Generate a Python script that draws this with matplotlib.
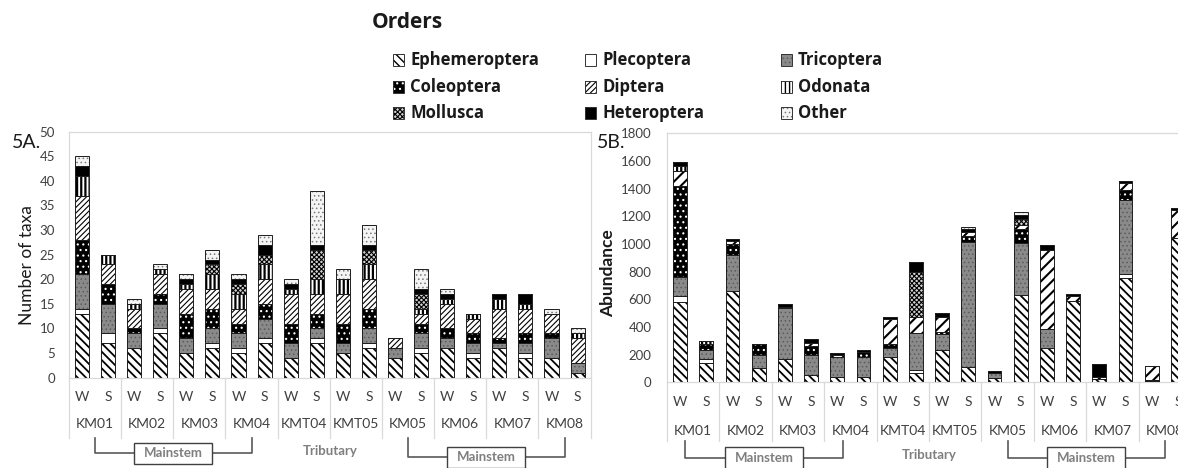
import matplotlib

matplotlib.use("Agg")
import matplotlib.pyplot as plt  # noqa: E402
import numpy as np  # noqa: E402
from matplotlib.patches import Rectangle  # noqa: E402
from matplotlib.transforms import blended_transform_factory  # noqa: E402

W_PX, H_PX = 1178, 468

sites = ["KM01", "KM02", "KM03", "KM04", "KMT04", "KMT05", "KM05", "KM06", "KM07", "KM08"]
seasons = ["W", "S"]
orders = ["Ephemeroptera", "Plecoptera", "Tricoptera", "Coleoptera", "Diptera",
          "Odonata", "Mollusca", "Heteroptera", "Other"]

# number of taxa per order, bars ordered KM01 W, KM01 S, KM02 W, ...
taxa_ephemeroptera = [13, 7, 6, 9, 5, 6, 5, 7, 4, 7, 5, 6, 4, 5, 6, 4, 6, 4, 4, 1]
taxa_plecoptera = [1, 2, 0, 1, 0, 1, 1, 1, 0, 1, 0, 1, 0, 1, 0, 1, 0, 1, 0, 0]
taxa_tricoptera = [7, 6, 3, 5, 3, 3, 3, 4, 3, 2, 2, 3, 2, 3, 2, 2, 1, 2, 4, 2]
taxa_coleoptera = [7, 4, 1, 2, 5, 4, 2, 3, 4, 3, 4, 4, 0, 2, 2, 2, 1, 2, 1, 0]
taxa_diptera = [9, 4, 4, 4, 5, 4, 3, 5, 6, 4, 6, 6, 2, 2, 5, 3, 6, 5, 4, 5]
taxa_odonata = [4, 2, 1, 1, 1, 3, 3, 3, 1, 3, 3, 3, 0, 1, 1, 1, 2, 1, 0, 1]
taxa_mollusca = [0, 0, 0, 0, 0, 2, 2, 2, 0, 6, 0, 3, 0, 3, 0, 0, 0, 0, 0, 0]
taxa_heteroptera = [2, 0, 0, 0, 1, 1, 1, 2, 1, 1, 0, 1, 0, 1, 1, 0, 1, 2, 0, 0]
taxa_other = [2, 0, 1, 1, 1, 2, 1, 2, 1, 11, 2, 4, 0, 4, 1, 0, 0, 0, 1, 1]

# abundance per order, same bar order
abund_ephemeroptera = [580, 140, 660, 100, 170, 50, 40, 40, 180, 70, 230, 110, 30, 630, 250, 590, 25, 757, 8, 1040]
abund_plecoptera = [45, 30, 0, 0, 0, 0, 0, 0, 0, 20, 0, 0, 0, 0, 0, 0, 0, 27, 0, 0]
abund_tricoptera = [135, 60, 260, 95, 365, 150, 145, 145, 65, 265, 120, 905, 40, 375, 133, 0, 0, 535, 0, 0]
abund_coleoptera = [660, 50, 80, 85, 0, 60, 0, 35, 30, 0, 15, 40, 0, 105, 0, 0, 0, 72, 10, 0]
abund_diptera = [110, 0, 20, 0, 10, 25, 10, 0, 180, 120, 110, 35, 0, 30, 573, 34, 15, 49, 100, 205]
abund_odonata = [35, 15, 0, 0, 0, 0, 0, 0, 0, 0, 0, 0, 0, 0, 0, 0, 0, 0, 0, 0]
abund_mollusca = [0, 0, 0, 0, 0, 0, 0, 0, 0, 325, 0, 0, 0, 40, 0, 0, 0, 0, 0, 0]
abund_heteroptera = [25, 0, 15, 0, 20, 25, 15, 15, 20, 67, 25, 15, 10, 30, 34, 14, 90, 15, 0, 13]
abund_other = [0, 0, 0, 0, 0, 0, 0, 0, 0, 0, 0, 20, 0, 20, 0, 0, 0, 0, 0, 0]

taxa = dict(zip(orders, [taxa_ephemeroptera, taxa_plecoptera, taxa_tricoptera, taxa_coleoptera,
                         taxa_diptera, taxa_odonata, taxa_mollusca, taxa_heteroptera, taxa_other]))
abund = dict(zip(orders, [abund_ephemeroptera, abund_plecoptera, abund_tricoptera, abund_coleoptera,
                          abund_diptera, abund_odonata, abund_mollusca, abund_heteroptera, abund_other]))

# fill, hatch, hatch colour, hatch line width
STYLE = {
    "Ephemeroptera": ("white", "\\\\\\\\", "black", 1.3),
    "Plecoptera": ("white", "", "black", 0.5),
    "Tricoptera": ("#8a8a8a", "....", "#5c5c5c", 0.6),
    "Coleoptera": ("black", "...", "white", 0.8),
    "Diptera": ("white", "//////", "black", 0.8),
    "Odonata": ("white", "||||", "black", 1.6),
    "Mollusca": ("#d0d0d0", "xxxxxxx", "black", 0.8),
    "Heteroptera": ("black", "", "black", 0.5),
    "Other": ("#f4f4f4", "....", "#7a7a7a", 0.6),
}
STYLE_B = dict(STYLE, Diptera=("white", "///", "black", 1.5))

plt.rcParams["font.family"] = ["Lato", "DejaVu Sans"]
LEGEND_FONT = ["Open Sans", "DejaVu Sans"]

fig = plt.figure(figsize=(W_PX / 100, H_PX / 100), dpi=100)
fig.patch.set_facecolor("white")


def px_axes(left, top, right, bottom):
    return fig.add_axes([left / W_PX, 1 - bottom / H_PX, (right - left) / W_PX, (bottom - top) / H_PX])


def fy(ypx):
    return 1 - ypx / H_PX


def hatched(patch, lw):
    if hasattr(patch, "set_hatch_linewidth"):
        patch.set_hatch_linewidth(lw)


def draw_stack(ax, data, styles, width):
    x = np.arange(len(sites) * len(seasons))
    bottom = np.zeros(len(x))
    for name in orders:
        h = np.array(data[name], dtype=float)
        face, hatch, hcol, hlw = styles[name]
        with plt.rc_context({"hatch.linewidth": hlw}):
            bars = ax.bar(x, h, width, bottom=bottom, color=face, edgecolor=hcol,
                          linewidth=0, hatch=hatch or None, zorder=2)
        for b in bars:
            hatched(b, hlw)
        ax.bar(x, h, width, bottom=bottom, fill=False, edgecolor="#1e1e1e", linewidth=0.7, zorder=3)
        bottom += h


def style_axes(ax, ymax, step, pad):
    n = len(sites) * len(seasons)
    ax.set_xlim(-0.5, n - 0.5)
    ax.set_ylim(0, ymax)
    ax.set_yticks(np.arange(0, ymax + 1, step))
    ax.tick_params(axis="y", length=0, pad=pad, labelsize=9.5, labelcolor="#404040")
    ax.set_xticks([])
    for s in ax.spines.values():
        s.set_color("#d9d9d9")
        s.set_linewidth(0.9)


def category_axis(ax, y_axis, y_season, y_site, y_sep):
    tr = blended_transform_factory(ax.transData, fig.transFigure)
    for i, site in enumerate(sites):
        for j, season in enumerate(seasons):
            ax.text(2 * i + j, fy(y_season), season, transform=tr, ha="center", va="center",
                    fontsize=10, color="#404040", clip_on=False)
        ax.text(2 * i + 0.5, fy(y_site), site, transform=tr, ha="center", va="center",
                fontsize=10, color="#404040", clip_on=False)
    for k in range(len(sites) + 1):
        ax.plot([2 * k - 0.5] * 2, [fy(y_axis), fy(y_sep)], transform=tr, color="#d9d9d9",
                lw=0.9, clip_on=False, zorder=1)


def bracket(ax, x0, x1, y_top, y_mid, box_h, label):
    tr = blended_transform_factory(ax.transData, fig.transFigure)
    xc = (x0 + x1) / 2
    bw = 1.5
    kw = dict(transform=tr, color="#595959", lw=1.2, clip_on=False)
    ax.plot([x0, x0, xc - bw], [fy(y_top), fy(y_mid), fy(y_mid)], **kw)
    ax.plot([xc + bw, x1, x1], [fy(y_mid), fy(y_mid), fy(y_top)], **kw)
    ax.add_patch(Rectangle((xc - bw, fy(y_mid + box_h / 2)), 2 * bw, box_h / H_PX, transform=tr,
                           facecolor="white", edgecolor="#404040", lw=1.0, clip_on=False, zorder=4))
    ax.text(xc, fy(y_mid), label, transform=tr, ha="center", va="center", fontsize=9.5,
            fontweight="bold", color="#7f7f7f", clip_on=False, zorder=5)


def group_label(ax, x, ypx, label):
    tr = blended_transform_factory(ax.transData, fig.transFigure)
    ax.text(x, fy(ypx), label, transform=tr, ha="center", va="center", fontsize=9.5,
            fontweight="bold", color="#7f7f7f", clip_on=False)


# panel A: number of taxa
ax_a = px_axes(69, 131.7, 590.6, 377.6)
draw_stack(ax_a, taxa, STYLE, 0.54)
style_axes(ax_a, 50, 5, 10)
category_axis(ax_a, 377.6, 397, 424, 438)
bracket(ax_a, 0.5, 6.5, 438, 453, 21, "Mainstem")
bracket(ax_a, 12.5, 18.5, 438, 457, 21, "Mainstem")
group_label(ax_a, 9.5, 451, "Tributary")
fig.text(27 / W_PX, fy(265), "Number of taxa", rotation=90, ha="center", va="center",
         fontsize=12.5, color="#1a1a1a")
fig.text(12 / W_PX, fy(142), "5A.", ha="left", va="center", fontsize=14, color="#1a1a1a")

# panel B: abundance (plot area runs past the right edge of the figure)
ax_b = px_axes(667, 133.3, 1191, 382.3)
draw_stack(ax_b, abund, STYLE_B, 0.53)
style_axes(ax_b, 1800, 200, 11)
category_axis(ax_b, 382.3, 402, 431, 441)
bracket(ax_b, 0.2, 6.2, 441, 458, 23, "Mainstem")
bracket(ax_b, 12.5, 18.5, 441, 458, 23, "Mainstem")
group_label(ax_b, 9.5, 455, "Tributary")
fig.text(608 / W_PX, fy(273), "Abundance", rotation=90, ha="center", va="center",
         fontsize=12.5, fontweight="bold", color="#1a1a1a")
fig.text(597 / W_PX, fy(142), "5B.", ha="left", va="center", fontsize=14, color="#1a1a1a")

# legend of orders, three columns
fig.text(372 / W_PX, fy(22), "Orders", ha="left", va="center", fontsize=15,
         fontweight="bold", color="#1a1a1a", family=LEGEND_FONT)
col_x = [393, 585, 781]
row_y = [60, 87, 113]
for k, name in enumerate(orders):
    cx, cy = col_x[k % 3], row_y[k // 3]
    face, hatch, hcol, hlw = STYLE[name]
    with plt.rc_context({"hatch.linewidth": min(hlw, 1.0)}):
        sq = Rectangle((cx / W_PX, fy(cy + 5.5)), 11 / W_PX, 11 / H_PX, transform=fig.transFigure,
                       facecolor=face, edgecolor=hcol, lw=0, hatch=hatch or None)
    hatched(sq, min(hlw, 1.0))
    fig.add_artist(sq)
    fig.add_artist(Rectangle((cx / W_PX, fy(cy + 5.5)), 11 / W_PX, 11 / H_PX,
                             transform=fig.transFigure, fill=False, edgecolor="#333333", lw=0.7))
    fig.text((cx + 17) / W_PX, fy(cy), name, ha="left", va="center", fontsize=12,
             fontweight="bold", color="#1a1a1a", family=LEGEND_FONT)

fig.savefig("out.png", dpi=100)
